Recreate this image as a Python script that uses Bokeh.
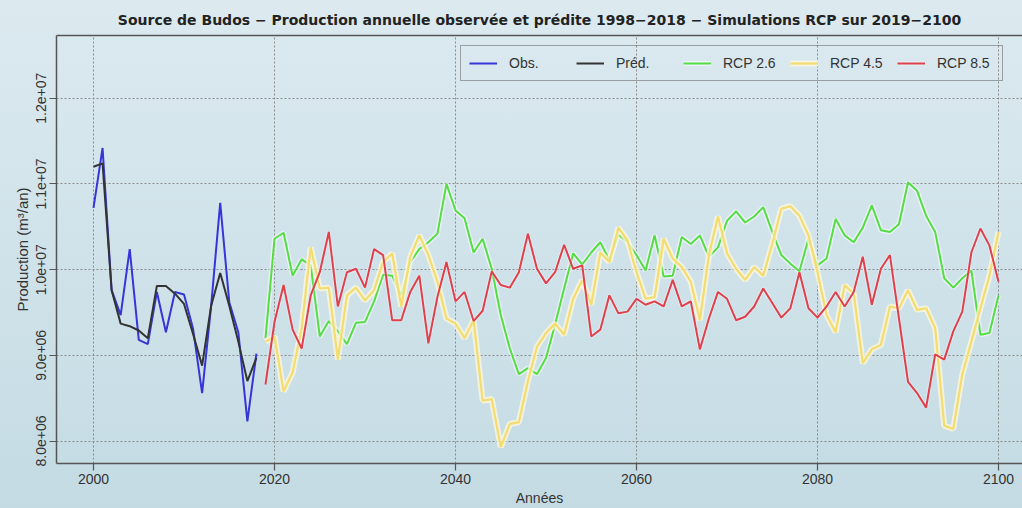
from bokeh.plotting import figure
from bokeh.models import FixedTicker, LinearAxis, Legend, LegendItem
from bokeh.embed import file_html
from bokeh.resources import INLINE

# ---------------- data (values in millions of m3/year) ----------------
obs_years = list(range(2000, 2019))
obs_m = [10.72, 11.42, 9.76, 9.47, 10.24, 9.18, 9.13, 9.74, 9.27, 9.74,
         9.71, 9.31, 8.56, 9.58, 10.78, 9.62, 9.27, 8.23, 9.02]
pred_m = [11.20, 11.24, 9.76, 9.37, 9.34, 9.29, 9.20, 9.81, 9.81, 9.72,
          9.60, 9.25, 8.88, 9.58, 9.96, 9.58, 9.16, 8.70, 8.97]

rcp_years = list(range(2019, 2101))
rcp26_m = [9.20, 10.36, 10.43, 9.93, 10.12, 10.05, 9.22, 9.40, 9.28, 9.13,
           9.38, 9.39, 9.63, 9.94, 9.93, 9.70, 10.09, 10.24, 10.32, 10.42,
           11.00, 10.69, 10.60, 10.20, 10.36, 10.01, 9.47, 9.08, 8.78, 8.85,
           8.78, 8.97, 9.36, 9.78, 10.19, 10.06, 10.20, 10.32, 10.11, 10.41,
           10.32, 10.17, 9.99, 10.40, 9.92, 9.93, 10.38, 10.30, 10.40, 10.15,
           10.26, 10.57, 10.68, 10.55, 10.62, 10.73, 10.44, 10.17, 10.07, 9.98,
           10.36, 10.05, 10.13, 10.59, 10.40, 10.32, 10.49, 10.75, 10.46, 10.44,
           10.53, 11.02, 10.92, 10.63, 10.44, 9.90, 9.79, 9.90, 9.99, 9.24,
           9.26, 9.70]
rcp45_m = [9.16, 9.22, 8.58, 8.80, 9.32, 10.26, 9.78, 9.79, 8.95, 9.70,
           9.79, 9.64, 9.76, 10.09, 10.19, 9.57, 10.15, 10.40, 10.17, 9.86,
           9.43, 9.37, 9.20, 9.41, 8.47, 8.49, 7.93, 8.20, 8.22, 8.70,
           9.10, 9.26, 9.37, 9.24, 9.66, 9.88, 9.59, 10.20, 10.09, 10.49,
           10.34, 9.97, 9.66, 9.68, 10.36, 10.13, 10.03, 9.86, 9.41, 10.17,
           10.62, 10.19, 10.01, 9.88, 10.03, 9.93, 10.30, 10.71, 10.74, 10.63,
           10.40, 9.97, 9.47, 9.27, 9.82, 9.72, 8.91, 9.07, 9.12, 9.57,
           9.55, 9.76, 9.53, 9.55, 9.32, 8.18, 8.14, 8.78, 9.16, 9.55,
           9.93, 10.44]
rcp85_m = [8.66, 9.39, 9.82, 9.30, 9.08, 9.70, 9.97, 10.44, 9.57, 9.97,
           10.01, 9.79, 10.24, 10.17, 9.41, 9.41, 9.74, 9.93, 9.14, 9.68,
           10.09, 9.63, 9.74, 9.40, 9.52, 9.98, 9.82, 9.79, 9.97, 10.42,
           10.01, 9.84, 9.97, 10.29, 10.01, 10.05, 9.22, 9.30, 9.70, 9.49,
           9.51, 9.66, 9.59, 9.63, 9.57, 9.88, 9.57, 9.63, 9.07, 9.43,
           9.74, 9.66, 9.41, 9.45, 9.57, 9.78, 9.61, 9.44, 9.55, 9.97,
           9.55, 9.44, 9.57, 9.74, 9.57, 9.74, 10.15, 9.59, 10.01, 10.17,
           9.43, 8.69, 8.56, 8.39, 9.01, 8.95, 9.28, 9.51, 10.20, 10.48,
           10.28, 9.86]

x_ticks = [2000, 2020, 2040, 2060, 2080, 2100]
y_ticks = [8e6, 9e6, 1e7, 1.1e7, 1.2e7]
y_tick_labels = ["8.0e+06", "9.0e+06", "1.0e+07", "1.1e+07", "1.2e+07"]

to_units = lambda arr: [v * 1e6 for v in arr]
obs, pred = to_units(obs_m), to_units(pred_m)
rcp26, rcp45, rcp85 = to_units(rcp26_m), to_units(rcp45_m), to_units(rcp85_m)

FONT = "Liberation Sans"
AX = "#555555"
TXT = "#333333"

p = figure(width=1022, height=508, output_backend="svg", toolbar_location=None,
           x_range=(1995.91, 2102.65), y_range=(7.738e6, 1.2732e7),
           min_border_left=56, min_border_right=0, min_border_top=35,
           min_border_bottom=41)
p.background_fill_color = None
p.border_fill_color = None
p.outline_line_color = None

p.title.text = ("Source de Budos \u2212 Production annuelle observ\u00e9e et pr\u00e9dite "
                "1998\u22122018 \u2212 Simulations RCP sur 2019\u22122100")
p.title.align = "center"
p.title.text_font = "DejaVu Sans"
p.title.text_font_size = "14px"
p.title.text_font_style = "bold"
p.title.text_color = "#222222"
p.title.standoff = 15

# axes
for ax in (p.xaxis[0], p.yaxis[0]):
    ax.axis_line_color = AX
    ax.axis_line_width = 1.5
    ax.major_tick_line_color = AX
    ax.major_tick_line_width = 1.2
    ax.major_tick_out = 7
    ax.major_tick_in = 0
    ax.minor_tick_line_color = None
    ax.major_label_text_font = FONT
    ax.major_label_text_font_size = "14px"
    ax.major_label_text_color = TXT
    ax.major_label_standoff = 3
    ax.axis_label_text_font = FONT
    ax.axis_label_text_font_size = "14px"
    ax.axis_label_text_font_style = "normal"
    ax.axis_label_text_color = TXT
    ax.axis_label_standoff = 3

p.xaxis.ticker = FixedTicker(ticks=x_ticks)
p.xaxis.axis_label = "Ann\u00e9es"
p.xaxis.axis_label_standoff = 3
p.yaxis.ticker = FixedTicker(ticks=y_ticks)
p.yaxis.major_label_overrides = {t: s for t, s in zip(y_ticks, y_tick_labels)}
p.yaxis.major_label_orientation = "parallel"
p.yaxis.axis_label = "Production (m\u00b3/an)"
p.yaxis.axis_label_text_font_size = "15px"

# top border line
top = LinearAxis(ticker=FixedTicker(ticks=[]), axis_line_color=AX, axis_line_width=1.5,
                 major_tick_line_color=None, minor_tick_line_color=None,
                 major_label_text_font_size="0px")
p.add_layout(top, "above")

# grid
p.xgrid.ticker = FixedTicker(ticks=x_ticks)
p.ygrid.ticker = FixedTicker(ticks=y_ticks)
for g in (p.xgrid[0], p.ygrid[0]):
    g.grid_line_color = "#8a8a8a"
    g.grid_line_dash = "2 2"
    g.grid_line_width = 1

# lines
h26 = p.line(rcp_years, rcp26, line_color="white", line_width=5, line_alpha=0.5)
l26 = p.line(rcp_years, rcp26, line_color="#55dd44", line_width=2)
h45 = p.line(rcp_years, rcp45, line_color="#fff8dc", line_width=6, line_alpha=0.75)
l45 = p.line(rcp_years, rcp45, line_color="#f3dc70", line_width=2.2)
h85 = p.line(rcp_years, rcp85, line_color="white", line_width=4, line_alpha=0.35)
l85 = p.line(rcp_years, rcp85, line_color="#e0404c", line_width=2)
lobs = p.line(obs_years, obs, line_color="#3535d8", line_width=2)
lpred = p.line(obs_years, pred, line_color="#333333", line_width=2)

legend = Legend(items=[
    LegendItem(label="Obs.", renderers=[lobs]),
    LegendItem(label="Pr\u00e9d.", renderers=[lpred]),
    LegendItem(label="RCP 2.6", renderers=[h26, l26]),
    LegendItem(label="RCP 4.5", renderers=[h45, l45]),
    LegendItem(label="RCP 8.5", renderers=[h85, l85]),
], orientation="horizontal", location=(404, 382))
legend.border_line_color = AX
legend.border_line_width = 1.5
legend.background_fill_alpha = 0
legend.label_text_font = FONT
legend.label_text_font_size = "14px"
legend.label_text_color = TXT
legend.glyph_width = 28
legend.glyph_height = 18
legend.label_height = 18
legend.label_standoff = 12
legend.label_width = 57
legend.spacing = 10
legend.padding = 8
legend.margin = 0
p.add_layout(legend)

html = file_html(p, INLINE)
css = ("<style>html{height:100%;background:linear-gradient(180deg,#dceaf0 0%,#c4dbe3 100%);}"
       "html,body{margin:0;padding:0;overflow:hidden;}</style>")
html = html.replace("<head>", "<head>" + css, 1)
open("out.html", "w").write(html)
